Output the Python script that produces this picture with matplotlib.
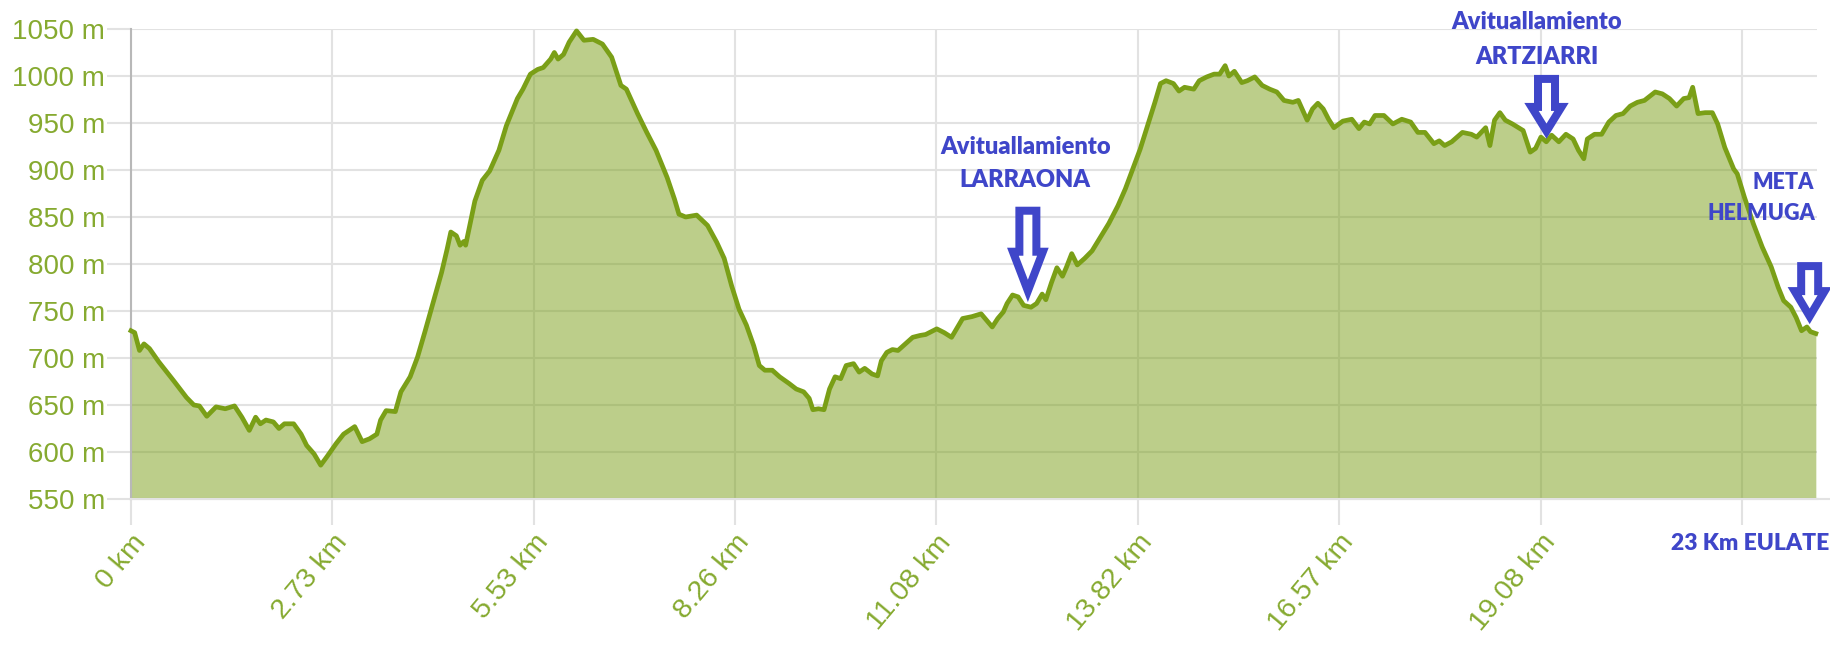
import matplotlib
matplotlib.use('Agg')
import matplotlib.pyplot as plt
from matplotlib.patches import Polygon
from matplotlib.transforms import Affine2D, ScaledTranslation

# Elevation profile (distance along the axis in km, altitude in m)
km = [0.000, 0.050, 0.116, 0.177, 0.252, 0.378, 0.580, 0.757, 0.857, 0.933,
      1.034, 1.160, 1.286, 1.412, 1.513, 1.614, 1.700, 1.765, 1.841, 1.942,
      2.018, 2.093, 2.219, 2.320, 2.396, 2.497, 2.588, 2.673, 2.799, 2.900,
      2.976, 3.052, 3.153, 3.253, 3.354, 3.405, 3.480, 3.606, 3.682, 3.808,
      3.909, 4.010, 4.111, 4.237, 4.313, 4.363, 4.439, 4.489, 4.540, 4.565,
      4.640, 4.691, 4.792, 4.893, 5.019, 5.120, 5.271, 5.347, 5.448, 5.548,
      5.624, 5.725, 5.775, 5.826, 5.901, 5.977, 6.078, 6.179, 6.305, 6.431,
      6.557, 6.683, 6.758, 6.910, 7.036, 7.162, 7.314, 7.414, 7.475, 7.566,
      7.717, 7.865, 7.991, 8.092, 8.193, 8.294, 8.395, 8.495, 8.571, 8.647,
      8.748, 8.848, 8.975, 9.075, 9.176, 9.252, 9.302, 9.378, 9.454, 9.529,
      9.605, 9.681, 9.756, 9.857, 9.933, 10.009, 10.109, 10.185, 10.236, 10.311,
      10.387, 10.463, 10.563, 10.664, 10.765, 10.841, 10.992, 11.093, 11.194, 11.270,
      11.345, 11.471, 11.597, 11.673, 11.749, 11.824, 11.900, 11.951, 12.026, 12.102,
      12.177, 12.278, 12.354, 12.430, 12.480, 12.556, 12.631, 12.707, 12.758, 12.833,
      12.909, 13.010, 13.111, 13.212, 13.338, 13.464, 13.565, 13.665, 13.766, 13.867,
      13.968, 14.044, 14.120, 14.220, 14.296, 14.372, 14.498, 14.573, 14.674, 14.775,
      14.851, 14.926, 14.977, 15.052, 15.153, 15.229, 15.330, 15.431, 15.534, 15.631,
      15.729, 15.850, 15.924, 16.045, 16.118, 16.191, 16.264, 16.337, 16.410, 16.532,
      16.654, 16.751, 16.824, 16.897, 16.970, 17.092, 17.214, 17.336, 17.457, 17.555,
      17.652, 17.774, 17.847, 17.920, 18.017, 18.163, 18.285, 18.358, 18.480, 18.538,
      18.601, 18.674, 18.748, 18.845, 18.991, 19.088, 19.161, 19.234, 19.307, 19.380,
      19.478, 19.575, 19.673, 19.746, 19.819, 19.867, 19.965, 20.062, 20.160, 20.257,
      20.354, 20.452, 20.549, 20.646, 20.793, 20.890, 20.987, 21.085, 21.182, 21.255,
      21.304, 21.377, 21.474, 21.572, 21.645, 21.742, 21.864, 21.912, 22.010, 22.131,
      22.253, 22.375, 22.472, 22.545, 22.643, 22.716, 22.789, 22.862, 22.911, 22.984]
elev = [729, 727, 708, 715, 710, 696, 676, 658, 650, 649,
        638, 648, 646, 649, 637, 623, 637, 630, 634, 632,
        625, 630, 630, 619, 607, 598, 586, 595, 609, 619,
        623, 627, 611, 614, 619, 634, 644, 643, 664, 680,
        701, 728, 756, 791, 816, 834, 830, 820, 824, 820,
        848, 867, 889, 899, 921, 947, 976, 986, 1002, 1007,
        1009, 1018, 1025, 1018, 1023, 1036, 1048, 1038, 1039, 1034,
        1020, 990, 986, 960, 940, 921, 892, 869, 853, 850,
        852, 841, 823, 806, 777, 752, 735, 713, 692, 687,
        687, 680, 673, 667, 664, 657, 645, 646, 645, 667,
        680, 678, 692, 694, 685, 689, 683, 681, 697, 706,
        709, 708, 715, 722, 724, 725, 731, 727, 722, 732,
        742, 744, 747, 740, 733, 742, 749, 758, 767, 765,
        756, 754, 758, 768, 762, 780, 796, 787, 796, 811,
        799, 806, 814, 827, 843, 862, 880, 901, 922, 947,
        972, 992, 995, 992, 984, 988, 986, 995, 999, 1002,
        1002, 1011, 1000, 1005, 993, 995, 999, 990, 986, 983,
        974, 972, 974, 953, 965, 971, 965, 954, 945, 952,
        954, 944, 951, 949, 958, 958, 949, 954, 951, 940,
        940, 928, 931, 926, 930, 940, 938, 935, 945, 926,
        953, 961, 953, 949, 942, 919, 923, 935, 930, 937,
        930, 938, 933, 921, 912, 933, 938, 938, 951, 958,
        960, 968, 972, 974, 983, 981, 976, 968, 976, 977,
        988, 960, 961, 961, 949, 924, 901, 896, 871, 843,
        818, 797, 775, 761, 754, 743, 729, 733, 728, 726]

x_labels = ['0 km', '2.73 km', '5.53 km', '8.26 km', '11.08 km',
            '13.82 km', '16.57 km', '19.08 km', '']
tick_step = 2.747
y_ticks = list(range(550, 1051, 50))

# blue notes added on top of the chart: text, km, m, alignment, size
notes = [('Avituallamiento', 12.2, 924, 'center', 17),
         ('LARRAONA', 12.2, 889, 'center', 17),
         ('Avituallamiento', 19.18, 1057, 'center', 17),
         ('ARTZIARRI', 19.18, 1020, 'center', 17),
         ('META', 22.96, 887, 'right', 15.5),
         ('HELMUGA', 22.98, 854, 'right', 15.5),
         ('23 Km EULATE', 22.09, 503, 'center', 16.5)]
# arrow tip (km, m), total length and head length in pixels
arrows = [(12.235, 762, 93, 48), (19.31, 932, 65, 33), (22.90, 735, 63, 34)]

line_c = '#7a9f17'
label_c = '#86aa30'
blue = '#3f46c9'
grid_c = '#e2e2e2'

fig = plt.figure(figsize=(18.3, 6.53), dpi=100)
ax = fig.add_axes([131 / 1830, 1 - 499 / 653, (1817 - 131) / 1830, (499 - 29) / 653])

ax.fill_between(km, elev, 550, color=line_c, alpha=0.5, lw=0, zorder=2)
ax.plot(km, elev, color=line_c, lw=3.4, zorder=3, clip_on=False, solid_joinstyle='round')

ax.set_xlim(0, 23)
ax.set_ylim(550, 1050)
ax.set_xticks([i * tick_step for i in range(len(x_labels))])
ax.set_xticklabels(x_labels, fontfamily='Liberation Sans')
ax.set_yticks(y_ticks)
ax.set_yticklabels([f'{v} m' for v in y_ticks], fontfamily='Liberation Sans')
for lab in ax.get_xticklabels():
    lab.set_rotation(50)
    lab.set_ha('right')
    lab.set_rotation_mode('anchor')

ax.set_axisbelow(True)
ax.grid(True, color=grid_c, lw=1.5)
ax.tick_params(axis='y', length=17.5, width=1.5, color=grid_c, pad=1,
               labelsize=20, labelcolor=label_c)
ax.tick_params(axis='x', length=19, width=1.5, color=grid_c, pad=3,
               labelsize=20.5, labelcolor=label_c)
for s in ['top', 'right']:
    ax.spines[s].set_visible(False)
ax.spines['left'].set_color('#b8b8b8')
ax.spines['left'].set_linewidth(1.5)
ax.spines['bottom'].set_color(grid_c)
ax.spines['bottom'].set_linewidth(1.5)
ax.plot([0, 1.01], [0, 0], transform=ax.transAxes, color=grid_c, lw=1.5, clip_on=False, zorder=1)

for txt, x, y, ha, size in notes:
    ax.text(x, y, txt, ha=ha, va='center', color=blue, fontsize=size,
            fontweight='heavy', fontfamily='Lato', clip_on=False, zorder=6)


def down_arrow(ax, x, y, length, head, sw=25, hw=42, lw=8):
    i = lw / 2
    pts = [(-sw / 2 + i, length - i), (sw / 2 - i, length - i), (sw / 2 - i, head),
           (hw / 2 - i - 2, head), (0, 2.2 * i), (-(hw / 2 - i - 2), head),
           (-sw / 2 + i, head)]
    tr = Affine2D() + ScaledTranslation(x, y, ax.transData)
    ax.add_patch(Polygon(pts, closed=True, transform=tr, facecolor='white',
                         edgecolor=blue, lw=lw * 0.72, joinstyle='miter',
                         clip_on=False, zorder=5))


for x, y, length, head in arrows:
    down_arrow(ax, x, y, length, head)

fig.savefig('out.png', dpi=100)
